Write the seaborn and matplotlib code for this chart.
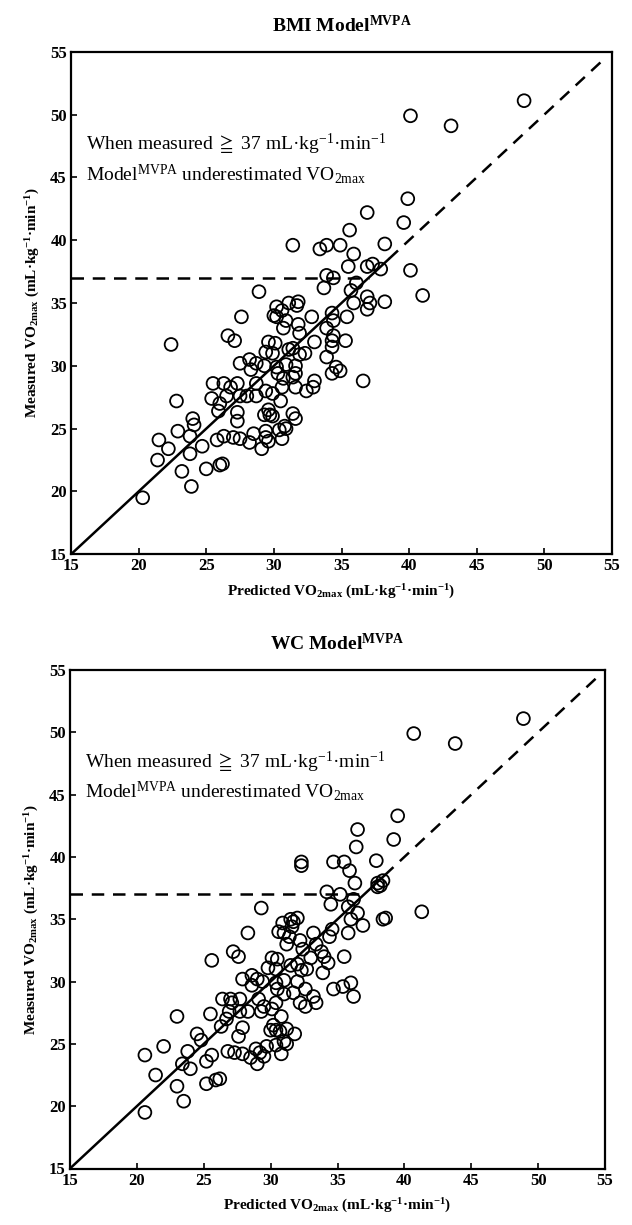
import numpy as np
import pandas as pd
import matplotlib
matplotlib.use("Agg")
import matplotlib.pyplot as plt
import seaborn as sns

# ---------------- data ----------------
measured = [49.9, 49.1, 51.1, 43.3, 42.2, 41.4, 40.8, 39.7, 39.6, 39.3, 39.6, 39.6, 38.9,
            37.9, 37.9, 38.1, 37.7, 37.6, 37.2, 37.0, 36.6, 36.0, 36.2, 35.9, 35.5, 35.0,
            35.0, 35.1, 34.5, 35.1, 34.8, 35.0, 34.7, 34.4, 33.9, 34.0, 33.6, 33.0, 33.3,
            32.6, 33.9, 34.2, 33.6, 33.0, 33.9, 33.9, 32.4, 32.0, 31.7, 32.4, 32.0, 32.0,
            31.9, 31.5, 31.9, 31.8, 31.3, 31.4, 30.9, 31.0, 30.7, 31.1, 31.0, 30.2, 30.5,
            30.2, 29.7, 30.0, 29.9, 30.1, 30.0, 29.4, 29.0, 29.4, 29.9, 29.4, 29.6, 28.8,
            28.8, 28.3, 29.1, 28.3, 28.3, 28.6, 28.6, 28.3, 28.6, 28.6, 28.0, 27.8, 28.0,
            27.4, 27.0, 27.6, 27.6, 27.6, 27.6, 27.2, 27.2, 26.4, 26.3, 26.5, 26.2, 25.8,
            25.8, 25.3, 25.6, 25.2, 24.9, 24.8, 24.6, 24.8, 24.1, 23.4, 22.5, 24.4, 23.0,
            23.6, 21.6, 21.8, 22.1, 22.2, 20.4, 19.5, 24.1, 24.4, 24.3, 24.2, 23.9, 26.1,
            26.1, 26.0, 25.0, 24.3, 24.0, 23.4, 24.2, 35.6]

pred_bmi = [40.1, 43.1, 48.5, 39.9, 36.9, 39.6, 35.6, 38.2, 31.4, 33.4, 33.9, 34.9, 35.9,
            35.5, 36.9, 37.3, 37.9, 40.1, 33.9, 34.4, 36.1, 35.7, 33.7, 28.9, 36.9, 37.1,
            35.9, 38.2, 36.9, 31.8, 31.7, 31.1, 30.2, 30.6, 30.2, 30.0, 30.9, 30.7, 31.8,
            31.9, 32.8, 34.3, 34.4, 33.9, 35.4, 27.6, 26.6, 27.1, 22.4, 34.4, 34.3, 35.3,
            33.0, 34.3, 29.6, 30.1, 31.1, 31.4, 31.9, 32.3, 33.9, 29.4, 29.9, 27.5, 28.2,
            28.7, 28.3, 29.3, 30.2, 30.9, 31.6, 30.3, 30.7, 31.6, 34.6, 34.3, 34.9, 36.6,
            33.0, 32.9, 31.4, 31.6, 30.6, 25.5, 26.3, 26.8, 27.3, 28.7, 29.4, 29.9, 32.4,
            25.4, 26.0, 26.5, 27.5, 28.0, 28.7, 22.8, 30.5, 25.9, 27.3, 29.6, 31.4, 31.6,
            24.0, 24.1, 27.3, 30.8, 30.4, 29.4, 28.5, 22.9, 21.5, 22.2, 21.4, 23.8, 23.8,
            24.7, 23.2, 25.0, 26.0, 26.2, 23.9, 20.3, 25.8, 26.3, 27.0, 27.5, 28.2, 29.3,
            29.7, 29.9, 30.9, 29.4, 29.6, 29.1, 30.6, 41.0]

pred_wc = [40.7, 43.8, 48.9, 39.5, 36.5, 39.2, 36.4, 37.9, 32.3, 32.3, 34.7, 35.5, 35.9,
           36.3, 38.0, 38.4, 38.2, 38.0, 34.2, 35.2, 36.2, 35.8, 34.5, 29.3, 36.5, 38.4,
           36.0, 38.6, 36.9, 32.0, 31.7, 31.5, 30.9, 31.6, 31.0, 30.6, 31.4, 31.2, 32.2,
           32.4, 33.2, 34.6, 34.4, 33.4, 35.8, 28.3, 27.2, 27.6, 25.6, 33.8, 34.0, 35.5,
           33.0, 34.3, 30.1, 30.5, 31.5, 32.0, 32.3, 32.7, 33.9, 29.8, 30.4, 27.9, 28.6,
           29.0, 28.6, 29.4, 30.4, 31.0, 32.0, 30.5, 31.0, 32.6, 36.0, 34.7, 35.4, 36.2,
           33.2, 33.4, 31.7, 32.2, 30.4, 26.4, 27.0, 27.1, 27.7, 29.1, 29.5, 30.1, 32.6,
           25.5, 26.7, 26.9, 27.7, 28.3, 29.3, 23.0, 30.8, 26.3, 27.9, 30.2, 31.2, 31.8,
           24.5, 24.8, 27.6, 31.0, 30.4, 29.7, 28.9, 22.0, 20.6, 23.4, 21.4, 23.8, 24.0,
           25.2, 23.0, 25.2, 25.9, 26.2, 23.5, 20.6, 25.6, 26.8, 27.3, 27.9, 28.5, 30.0,
           30.4, 30.7, 31.2, 29.2, 29.5, 29.0, 30.8, 41.3]

titles = ["BMI Model", "WC Model"]
ticks = [15, 20, 25, 30, 35, 40, 45, 50, 55]
identity_solid = [15, 38.5]
identity_dashed = [38.5, 54.4]
threshold = 37

# ---------------- style ----------------
sns.set_theme(style="white")
plt.rcParams['font.family'] = ['Liberation Serif', 'DejaVu Serif']
plt.rcParams['mathtext.fontset'] = 'custom'
plt.rcParams['mathtext.rm'] = 'Liberation Serif'
plt.rcParams['mathtext.it'] = 'Liberation Serif:italic'
plt.rcParams['mathtext.bf'] = 'Liberation Serif:bold'
plt.rcParams['mathtext.fallback'] = 'stix'

fig = plt.figure(figsize=(6.32, 12.25), dpi=100)
W, H = 632, 1225
boxes = [(71, 51.7, 612, 554.3), (70, 670, 605, 1168.5)]

for i, (pred, title) in enumerate(zip([pred_bmi, pred_wc], titles)):
    l, t, r, b = boxes[i]
    ax = fig.add_axes([l / W, 1 - b / H, (r - l) / W, (b - t) / H])
    df = pd.DataFrame({"pred": pred, "meas": measured})
    sns.scatterplot(data=df, x="pred", y="meas", ax=ax, marker="o", s=85,
                    facecolor="none", edgecolor="black", linewidth=1.3, zorder=3)
    ax.plot(identity_solid, identity_solid, color="black", lw=1.8, zorder=2)
    ax.plot(identity_dashed, identity_dashed, color="black", lw=1.8,
            dashes=(5, 3.5), zorder=2)
    ax.plot([15, threshold], [threshold, threshold], color="black", lw=1.8,
            dashes=(5, 3.5), zorder=2)
    ax.set_xlim(15, 55)
    ax.set_ylim(15, 55)
    ax.set_xticks(ticks)
    ax.set_yticks(ticks)
    ax.set_xticklabels([str(v) for v in ticks], fontweight="bold", fontsize=12)
    ax.set_yticklabels([str(v) for v in ticks], fontweight="bold", fontsize=12)
    ax.tick_params(axis="both", direction="in", length=4, width=1.2,
                   bottom=True, left=True, top=False, right=False, pad=3,
                   colors="black")
    for sp in ax.spines.values():
        sp.set_linewidth(1.6)
        sp.set_color("black")
    ax.set_xlabel(r"Predicted VO$_{\mathbf{2max}}$ (mL·kg$^{\mathbf{-1}}$·min$^{\mathbf{-1}}$)",
                  fontweight="bold", fontsize=11, labelpad=6, color="black")
    ax.set_ylabel(r"Measured VO$_{\mathbf{2max}}$ (mL·kg$^{\mathbf{-1}}$·min$^{\mathbf{-1}}$)",
                  fontweight="bold", fontsize=11, labelpad=6, color="black")
    ax.set_title(title + r"$^{\mathbf{MVPA}}$", fontweight="bold", fontsize=14,
                 pad=14, color="black")
    ax.text(16.1, 47.6, r"When measured $\geqq$ 37 mL·kg$^{-1}$·min$^{-1}$",
            fontsize=14, va="center", ha="left", color="black")
    ax.text(16.1, 45.3, r"Model$^{\rm MVPA}$ underestimated VO$_{\rm 2max}$",
            fontsize=14, va="center", ha="left", color="black")
    ax.set_facecolor("white")

fig.savefig("out.png", dpi=100, facecolor="white")
